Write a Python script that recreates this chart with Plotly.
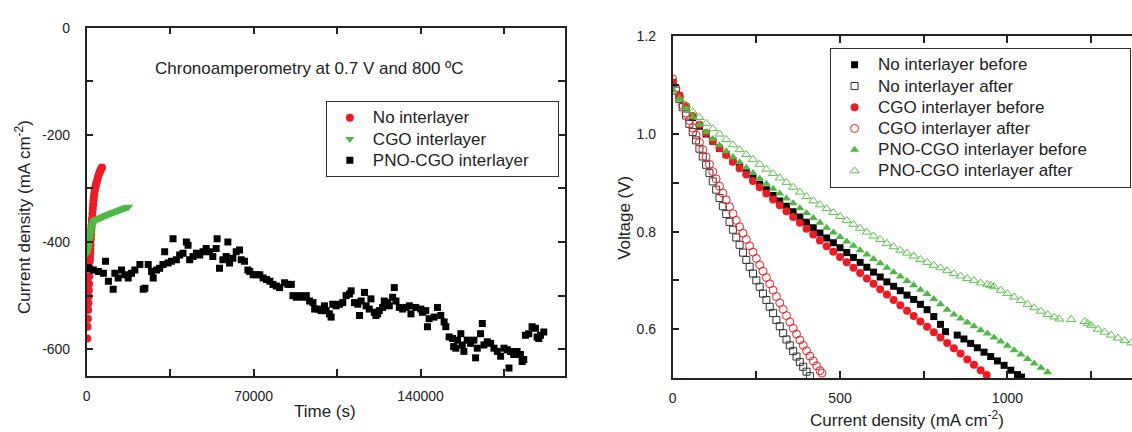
import plotly.graph_objects as go

# ---------------- Left panel: chronoamperometry ----------------
no_t = [200, 350, 500, 600, 700, 800, 900, 1000, 1100, 1200, 1300, 1400, 1500, 1550, 1650, 1750,
        1850, 1950, 2050, 2150, 2250, 2400, 2550, 2700, 2850, 3000, 3200, 3400, 3600, 3800, 4000,
        4300, 4600, 4900, 5200, 5500, 5800, 6100, 6400]
no_j = [-580, -558, -543, -527, -514, -502, -490, -478, -464, -448, -435, -428, -420, -415, -405, -395,
        -386, -377, -369, -362, -356, -347, -338, -330, -322, -316, -309, -303, -298, -294, -291,
        -286, -281, -276, -272, -269, -266, -263, -261]

cgo_t = [150, 300, 450, 600, 750, 900, 1050, 1200, 1350, 1500, 1650, 1800, 1950, 2100, 2250, 2400,
         2600, 2800, 3000, 3300, 3600, 4000, 4400, 4800, 5200, 5600, 6000, 6400, 6800, 7200, 7600,
         8000, 8400, 8800, 9200, 9600, 10000, 10400, 10800, 11200, 11600, 12000, 12400, 12800,
         13200, 13600, 14000, 14400, 14800, 15200, 15600, 16000, 16400, 16800, 17200, 17600]
cgo_j = [-421, -417, -413, -409, -405, -401, -397, -393, -389, -386, -382, -379, -376, -373, -370, -368,
         -365, -363, -361, -360, -359, -358, -357, -357, -356, -355, -354, -354, -353, -352, -351,
         -350, -350, -349, -348, -347, -347, -346, -345, -345, -344, -343, -343, -342, -341, -341,
         -340, -339, -339, -338, -337, -337, -336, -335, -335, -334]

pno_t = [0, 700, 2800, 4900, 7000, 7900, 9100, 11100, 11800, 13200, 14600, 16000, 17400, 18800, 20200,
         22300, 23700, 24400, 25800, 27200, 27900, 29300, 30600, 32000, 32700, 34100, 35500, 36200,
         37600, 39000, 40400, 41800, 42500, 43200, 44600, 46000, 47400, 48800, 50100, 51500, 52900,
         54300, 54700, 55700, 57100, 58500, 59200, 59900, 61300, 62700, 64100, 64800, 66200, 67600,
         68400, 69800, 71200, 72600, 74000, 75400, 76800, 78100, 79500, 80900, 83000, 84400, 85800,
         86500, 87900, 89300, 90700, 92100, 93500, 94900, 95600, 97000, 98300, 99700, 100400, 101800,
         102500, 103200, 104600, 106000, 107400, 108800, 110200, 110900, 112300, 113700, 114400,
         115100, 116500, 117200, 118500, 119200, 120600, 121300, 122000, 122700, 124100, 124800,
         126200, 126900, 128300, 129000, 129700, 131100, 132500, 133900, 135300, 136000, 138000,
         140100, 140800, 142200, 142900, 143600, 145700, 147100, 148500, 149900, 150600, 152000,
         153400, 153900, 154800, 155500, 156900, 157500, 158200, 159600, 161000, 162400, 163100,
         163800, 165200, 165900, 166600, 168000, 169400, 170800, 172200, 173600, 175000, 176400,
         177100, 177700, 179100, 180500, 181900, 182600, 183300, 184000, 185400, 186800, 188200,
         188900, 189600, 190300, 191700]
pno_j = [-450, -448, -452, -455, -458, -436, -473, -488, -458, -467, -452, -461, -467, -458, -452,
         -442, -488, -486, -442, -455, -467, -452, -449, -442, -418, -439, -436, -394,
         -433, -424, -421, -400, -406, -433, -427, -421, -424, -418, -412, -418, -427,
         -412, -394, -449, -433, -427, -400, -439, -430, -418, -415, -433, -436, -452,
         -455, -461, -461, -461, -467, -470, -473, -479, -482, -485, -476, -479, -479,
         -500, -503, -500, -503, -500, -510, -513, -525, -525, -528, -519, -528, -534,
         -540, -516, -519, -516, -513, -500, -497, -491, -513, -516, -537,
         -510, -494, -519, -525, -506, -531, -537, -534, -528, -522, -510,
         -513, -519, -503, -485, -510, -522, -525, -522, -519, -534, -522,
         -525, -531, -528, -558, -543, -540, -522, -537, -549, -558, -577,
         -580, -595, -598, -583, -571, -592, -604, -583, -589, -583, -616,
         -598, -571, -552, -592, -586, -589, -598, -604, -613, -598, -601,
         -635, -604, -610, -604, -610, -623, -619, -574, -571, -558, -561,
         -577, -580, -574, -568]

# ---------------- Right panel: polarisation curves ----------------
nb_i = [0, 20, 40, 60, 80, 100, 120, 140, 160, 180, 200, 220, 240, 260, 280, 300, 320, 340, 360, 380,
        400, 420, 440, 460, 480, 500, 520, 540, 560, 580, 600, 620, 640, 660, 680, 700, 720, 740, 760,
        780, 800, 815, 850, 870, 890, 910, 930, 950, 970, 990, 1010, 1030, 1042]
nb_v = [1.105, 1.078, 1.055, 1.034, 1.016, 1.000, 0.985, 0.971, 0.958, 0.945, 0.933, 0.921, 0.909, 0.897,
        0.886, 0.874, 0.863, 0.852, 0.841, 0.830, 0.819, 0.808, 0.797, 0.787, 0.777, 0.767, 0.757, 0.747,
        0.737, 0.727, 0.717, 0.707, 0.697, 0.688, 0.679, 0.670, 0.661, 0.651, 0.640, 0.626, 0.610, 0.595,
        0.588, 0.580, 0.571, 0.562, 0.553, 0.544, 0.535, 0.526, 0.516, 0.507, 0.502]

na_i = [0, 10, 20, 30, 40, 50, 60, 70, 80, 90, 100, 110, 120, 130, 140, 150, 160, 170, 180, 190, 200,
        210, 220, 230, 240, 250, 260, 270, 280, 290, 300, 310, 320, 330, 340, 350, 360, 370, 380, 390,
        400, 410]
na_v = [1.105, 1.089, 1.072, 1.055, 1.038, 1.021, 1.004, 0.987, 0.970, 0.954, 0.937, 0.920, 0.903, 0.886,
        0.869, 0.852, 0.836, 0.820, 0.804, 0.788, 0.773, 0.757, 0.742, 0.728, 0.714, 0.700, 0.687, 0.673,
        0.660, 0.646, 0.633, 0.619, 0.606, 0.592, 0.579, 0.567, 0.555, 0.544, 0.533, 0.523, 0.513, 0.504]

cb_i = [0, 20, 40, 60, 80, 100, 120, 140, 160, 180, 200, 220, 240, 260, 280, 300, 320, 340, 360, 380,
        400, 420, 440, 460, 480, 500, 520, 540, 560, 580, 600, 620, 640, 660, 680, 700, 720, 740, 760,
        780, 800, 820, 840, 860, 880, 900, 920, 938]
cb_v = [1.105, 1.079, 1.057, 1.037, 1.019, 1.002, 0.986, 0.971, 0.957, 0.943, 0.930, 0.917, 0.904, 0.891,
        0.878, 0.866, 0.854, 0.842, 0.830, 0.818, 0.806, 0.794, 0.782, 0.770, 0.759, 0.748, 0.737, 0.726,
        0.715, 0.704, 0.693, 0.682, 0.671, 0.660, 0.649, 0.638, 0.627, 0.616, 0.605, 0.594, 0.583, 0.572,
        0.561, 0.550, 0.538, 0.527, 0.516, 0.506]

ca_i = [0, 10, 20, 30, 40, 50, 60, 70, 80, 90, 100, 110, 120, 130, 140, 150, 160, 170, 180, 190, 200,
        210, 220, 230, 240, 250, 260, 270, 280, 290, 300, 310, 320, 330, 340, 350, 360, 370, 380, 390,
        400, 410, 420, 430, 440, 446]
ca_v = [1.113, 1.094, 1.076, 1.059, 1.043, 1.028, 1.013, 0.998, 0.983, 0.968, 0.953, 0.938, 0.923, 0.908,
        0.893, 0.879, 0.865, 0.851, 0.837, 0.823, 0.810, 0.797, 0.784, 0.771, 0.758, 0.745, 0.732, 0.719,
        0.706, 0.693, 0.680, 0.667, 0.654, 0.641, 0.628, 0.615, 0.602, 0.590, 0.578, 0.567, 0.556, 0.545,
        0.535, 0.525, 0.515, 0.510]

pb_i = [0, 20, 40, 60, 80, 100, 120, 140, 160, 180, 200, 220, 240, 260, 280, 300, 320, 340, 360, 380,
        400, 420, 440, 460, 480, 500, 520, 540, 560, 580, 600, 620, 640, 660, 680, 700, 720, 740, 760,
        780, 800, 820, 840, 860, 880, 900, 920, 940, 960, 980, 1000, 1020, 1040, 1060, 1080, 1100, 1120]
pb_v = [1.092, 1.071, 1.052, 1.035, 1.019, 1.004, 0.990, 0.977, 0.965, 0.953, 0.942, 0.931, 0.920, 0.909,
        0.898, 0.888, 0.878, 0.868, 0.858, 0.848, 0.838, 0.828, 0.818, 0.808, 0.798, 0.789, 0.780, 0.771,
        0.762, 0.753, 0.744, 0.735, 0.726, 0.717, 0.708, 0.699, 0.690, 0.681, 0.672, 0.662, 0.651, 0.640,
        0.630, 0.622, 0.614, 0.606, 0.598, 0.591, 0.583, 0.575, 0.566, 0.557, 0.548, 0.539, 0.530, 0.521,
        0.512]

pa_i = [0, 20, 40, 60, 80, 100, 120, 140, 160, 180, 200, 220, 240, 260, 280, 300, 320, 340, 360, 380,
        400, 420, 440, 460, 480, 500, 520, 540, 560, 580, 600, 620, 640, 660, 680, 700, 720, 740, 760,
        780, 800, 820, 840, 860, 880, 900, 920, 940, 950, 960, 980, 1000, 1020, 1040, 1060, 1080, 1100,
        1120, 1140, 1155, 1190, 1230, 1240, 1250, 1270, 1290, 1310, 1330, 1350, 1370, 1390]
pa_v = [1.088, 1.073, 1.059, 1.046, 1.034, 1.022, 1.011, 1.000, 0.989, 0.978, 0.968, 0.958, 0.948, 0.938,
        0.928, 0.919, 0.910, 0.901, 0.891, 0.881, 0.872, 0.863, 0.855, 0.847, 0.839, 0.831, 0.823, 0.815,
        0.807, 0.799, 0.791, 0.784, 0.776, 0.769, 0.762, 0.756, 0.750, 0.743, 0.737, 0.731, 0.726, 0.720,
        0.714, 0.709, 0.704, 0.700, 0.695, 0.692, 0.690, 0.687, 0.680, 0.673, 0.666, 0.659, 0.651, 0.644,
        0.637, 0.630, 0.625, 0.621, 0.620, 0.616, 0.612, 0.608, 0.600, 0.594, 0.588, 0.582, 0.577, 0.572,
        0.568]

# ---------------- Styles ----------------
FONT = "Liberation Sans, Arial, sans-serif"
RED = "#ec1c24"
GREEN = "#4fb845"
BLACK = "#000000"
GREY = "#333333"
AX = "#222222"
NB = "\u00a0"


def nm(s, pad=0):
    return '<span style="font-size:17px">' + s + NB * pad + '</span>'


fig = go.Figure()

fig.add_trace(go.Scatter(x=no_t, y=no_j, mode="markers", name=nm("No interlayer"),
                         marker=dict(symbol="circle", size=8, color=RED),
                         xaxis="x", yaxis="y", legend="legend"))
fig.add_trace(go.Scatter(x=cgo_t, y=cgo_j, mode="markers", name=nm("CGO interlayer"),
                         marker=dict(symbol="triangle-down", size=8, color=GREEN),
                         xaxis="x", yaxis="y", legend="legend"))
fig.add_trace(go.Scatter(x=pno_t, y=pno_j, mode="markers", name=nm("PNO-CGO interlayer", 5),
                         marker=dict(symbol="square", size=7, color=BLACK),
                         xaxis="x", yaxis="y", legend="legend"))

fig.add_trace(go.Scatter(x=nb_i, y=nb_v, mode="markers", name=nm("No interlayer before"),
                         marker=dict(symbol="square", size=7, color=BLACK),
                         xaxis="x2", yaxis="y2", legend="legend2"))
fig.add_trace(go.Scatter(x=na_i, y=na_v, mode="markers", name=nm("No interlayer after"),
                         marker=dict(symbol="square-open", size=7, color=GREY, line=dict(width=1)),
                         xaxis="x2", yaxis="y2", legend="legend2"))
fig.add_trace(go.Scatter(x=cb_i, y=cb_v, mode="markers", name=nm("CGO interlayer before"),
                         marker=dict(symbol="circle", size=8, color=RED),
                         xaxis="x2", yaxis="y2", legend="legend2"))
fig.add_trace(go.Scatter(x=ca_i, y=ca_v, mode="markers", name=nm("CGO interlayer after"),
                         marker=dict(symbol="circle-open", size=8, color=RED, line=dict(width=1)),
                         xaxis="x2", yaxis="y2", legend="legend2"))
fig.add_trace(go.Scatter(x=pb_i, y=pb_v, mode="markers", name=nm("PNO-CGO interlayer before", 8),
                         marker=dict(symbol="triangle-up", size=8, color=GREEN),
                         xaxis="x2", yaxis="y2", legend="legend2"))
fig.add_trace(go.Scatter(x=pa_i, y=pa_v, mode="markers", name=nm("PNO-CGO interlayer after"),
                         marker=dict(symbol="triangle-up-open", size=8, color="#5cbf4c", line=dict(width=1)),
                         xaxis="x2", yaxis="y2", legend="legend2"))

W, H = 1132, 432


def px(x):
    return x / W


def py(y):
    return (H - y) / H


axis_common = dict(showline=True, linewidth=1.5, linecolor=AX, ticks="inside", ticklen=7,
                   tickwidth=1.5, tickcolor=AX, showgrid=False, zeroline=False,
                   tickfont=dict(family=FONT, size=14, color="#222"))

fig.update_layout(
    width=W, height=H, margin=dict(l=0, r=0, t=0, b=0),
    paper_bgcolor="white", plot_bgcolor="white",
    font=dict(family=FONT, color="#222"),
    xaxis=dict(domain=[px(83), px(563)], range=[0, 200600], anchor="y",
               tickvals=[0, 35000, 70000, 105000, 140000, 175000],
               ticktext=["0", "", "70000", "", "140000", ""], mirror="allticks",
               ticklabelstandoff=6, **axis_common),
    yaxis=dict(domain=[py(375), py(20)], range=[-650, 0], anchor="x",
               tickvals=[-600, -500, -400, -300, -200, -100, 0],
               ticktext=["-600", "", "-400", "", "-200", "", "0"], mirror="allticks",
               ticklabelstandoff=12, **axis_common),
    xaxis2=dict(domain=[px(671), 1.0], range=[0, 1372], anchor="y2",
                tickvals=[0, 250, 500, 750, 1000, 1250],
                ticktext=["0", "", "500", "", "1000", ""], mirror="allticks",
                ticklabelstandoff=6, **axis_common),
    yaxis2=dict(domain=[py(377), py(29)], range=[0.5, 1.2], anchor="x2",
                tickvals=[0.6, 0.7, 0.8, 0.9, 1.0, 1.1, 1.2],
                ticktext=["0.6", "", "0.8", "", "1.0", "", "1.2"], mirror=False,
                ticklabelstandoff=12, **axis_common),
    legend=dict(x=px(323), y=py(95), xanchor="left", yanchor="top",
                bgcolor="white", bordercolor="#333", borderwidth=1,
                font=dict(family=FONT, size=14, color="#222"), itemwidth=36),
    legend2=dict(x=px(829), y=py(41), xanchor="left", yanchor="top",
                 bgcolor="white", bordercolor="#333", borderwidth=1,
                 font=dict(family=FONT, size=14, color="#222"), itemwidth=37),
)

ann_font = dict(family=FONT, size=17, color="#222")


def ann(text, x, y, angle=0):
    fig.add_annotation(text=text, x=px(x), y=py(y), xref="paper", yref="paper",
                       xanchor="center", yanchor="middle", showarrow=False,
                       textangle=angle, font=ann_font)


ann("Chronoamperometry at 0.7 V and 800 ºC", 307, 62)
ann("Current density (mA cm<sup>-2</sup>)", 19, 213, -90)
ann("Time (s)", 322, 411)
ann("Voltage (V)", 622, 214, -90)
ann("Current density (mA cm<sup>-2</sup>)", 906, 419)

fig.write_html("out.html")
